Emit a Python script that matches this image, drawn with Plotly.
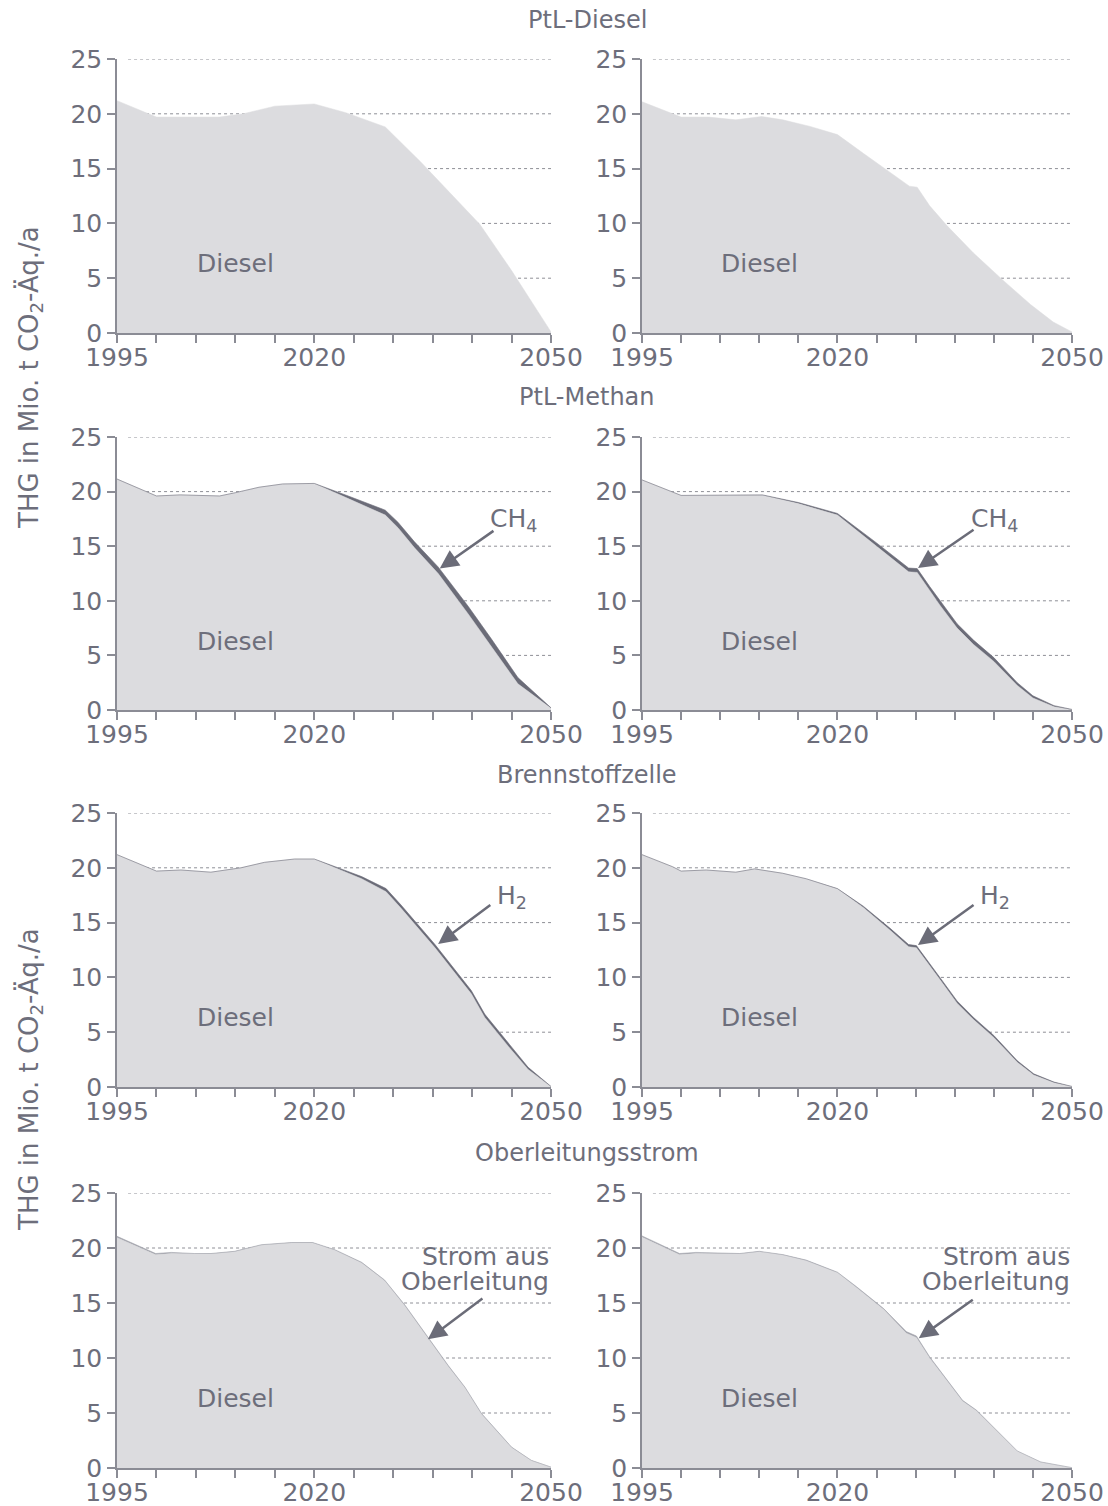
import plotly.graph_objects as go

# ---------------- data (Mio. t CO2-Äq./a) ----------------
# Row 1: PtL-Diesel
a_years = [1995, 2000, 2008, 2011, 2015, 2020, 2024, 2029, 2033.5, 2038, 2041, 2045, 2050]
a_diesel = [21.2, 19.7, 19.7, 20.0, 20.7, 20.9, 20.1, 18.8, 15.6, 12.2, 9.9, 5.7, 0.1]

b_years = [1995, 2000, 2003.5, 2007, 2010.3, 2013, 2016.5, 2020, 2023.3, 2026.3, 2029.2, 2030.2,
           2031.8, 2034, 2037.4, 2041.2, 2044.7, 2047.6, 2050]
b_diesel = [21.1, 19.7, 19.7, 19.45, 19.75, 19.45, 18.85, 18.1, 16.4, 14.9, 13.4, 13.3,
            11.6, 9.8, 7.3, 4.8, 2.6, 1.0, 0.1]

# Row 2: PtL-Methan
c_years = [1995, 2000, 2003, 2008, 2010, 2013, 2016, 2020, 2024.3, 2029, 2030.6, 2032.7,
           2035.7, 2039.5, 2042.5, 2045.8, 2050]
c_diesel = [21.15, 19.6, 19.7, 19.6, 19.9, 20.4, 20.7, 20.75, 19.36, 17.85, 16.7, 14.85,
            12.5, 8.8, 5.75, 2.4, 0.15]
c_ch4 = [0, 0, 0, 0, 0, 0, 0, 0, 0.24, 0.45, 0.5, 0.55, 0.6, 0.7, 0.7, 0.57, 0.05]

d_years = [1995, 2000, 2010.4, 2015, 2020, 2025, 2029.1, 2030.2, 2031.8, 2033.1, 2035.3,
           2037.4, 2040, 2043, 2045, 2047.7, 2050]
d_diesel = [21.07, 19.65, 19.67, 18.9, 17.85, 15.0, 12.65, 12.6, 10.9, 9.6, 7.5,
            6.0, 4.45, 2.25, 1.1, 0.3, 0.03]
d_ch4 = [0, 0, 0.03, 0.1, 0.15, 0.3, 0.35, 0.35, 0.4, 0.4, 0.4, 0.4, 0.35, 0.25, 0.2, 0.1, 0.02]

# Row 3: Brennstoffzelle
e_years = [1995, 1998.9, 2000, 2003.1, 2006.9, 2010.7, 2013.7, 2017.5, 2020, 2023.4, 2026,
           2029.1, 2031, 2035.3, 2039.9, 2041.6, 2044.6, 2047.1, 2050]
e_diesel = [21.2, 20.0, 19.7, 19.8, 19.6, 20.0, 20.5, 20.8, 20.8, 19.78, 19.0,
            17.82, 16.3, 12.7, 8.5, 6.35, 3.7, 1.6, 0.03]
e_h2 = [0, 0, 0, 0, 0, 0, 0, 0, 0, 0.12, 0.2, 0.28, 0.3, 0.3, 0.3, 0.3, 0.25, 0.2, 0.02]

f_years = [1995, 1998.9, 2000, 2003.2, 2007, 2009.4, 2013, 2016, 2020, 2023.3, 2026.7, 2029.1,
           2030.1, 2031.8, 2033.1, 2035.3, 2037.4, 2040, 2043, 2045.1, 2047.7, 2050]
f_diesel = [21.2, 20.1, 19.7, 19.8, 19.6, 19.9, 19.5, 19.0, 18.08, 16.38, 14.32, 12.8,
            12.7, 11.0, 9.8, 7.65, 6.15, 4.52, 2.25, 1.1, 0.39, 0.04]
f_h2 = [0, 0, 0, 0, 0, 0, 0, 0, 0.02, 0.12, 0.18, 0.2, 0.2, 0.2, 0.2, 0.2, 0.2, 0.18,
        0.15, 0.1, 0.06, 0.01]

# Row 4: Oberleitungsstrom
g_years = [1995, 1999.9, 2001.9, 2004.8, 2006.9, 2009.9, 2013.3, 2017.1, 2019.8, 2022.6, 2026,
           2028.9, 2031.5, 2034.4, 2037, 2039.1, 2041.2, 2045, 2047.5, 2050]
g_diesel = [20.94, 19.38, 19.5, 19.45, 19.46, 19.66, 20.26, 20.46, 20.46, 19.8, 18.64,
            17.02, 14.7, 11.8, 9.2, 7.27, 4.89, 1.86, 0.68, 0.08]
g_strom = [0.12, 0.12, 0.1, 0.05, 0.04, 0.04, 0.04, 0.04, 0.04, 0.05, 0.06, 0.08, 0.1, 0.1,
           0.1, 0.08, 0.06, 0.04, 0.02, 0.0]

h_years = [1995, 1999.8, 2001.9, 2005.3, 2007.5, 2010, 2013, 2016, 2020, 2022.4, 2025.9, 2028.8,
           2030.1, 2031.8, 2034, 2036, 2037.8, 2040.4, 2043, 2046, 2050]
h_diesel = [20.98, 19.38, 19.5, 19.45, 19.46, 19.66, 19.36, 18.85, 17.74, 16.42, 14.4, 12.25,
            11.85, 9.98, 7.9, 6.07, 5.18, 3.35, 1.52, 0.53, 0.03]
h_strom = [0.12, 0.12, 0.1, 0.05, 0.04, 0.04, 0.04, 0.05, 0.06, 0.08, 0.1, 0.15, 0.15, 0.12,
           0.1, 0.08, 0.07, 0.05, 0.03, 0.02, 0.0]

row_titles = ["PtL-Diesel", "PtL-Methan", "Brennstoffzelle", "Oberleitungsstrom"]
x_tickvals = list(range(1995, 2051, 5))
x_ticktext = ["1995", "", "", "", "", "2020", "", "", "", "", "", "2050"]
y_tickvals = [0, 5, 10, 15, 20, 25]
y_title = "THG in Mio. t CO<sub>2</sub>-Äq./a"

# ---------------- styling ----------------
FONT = "DejaVu Sans"
TXT = "#6d6e7b"
AX = "#8b8c95"
FILL = "#dcdcdf"
DARK = "#6b6c78"
STROM = "#a3a4ac"
W, H = 1108, 1506

col_px = [(117, 551), (642, 1072)]
row_px = [(59, 333), (437, 710), (813, 1087), (1193, 1468)]
title_px = [20, 397, 775, 1153]

panels = [
    (0, 0, a_years, a_diesel, None, None),
    (0, 1, b_years, b_diesel, None, None),
    (1, 0, c_years, c_diesel, c_ch4, DARK),
    (1, 1, d_years, d_diesel, d_ch4, DARK),
    (2, 0, e_years, e_diesel, e_h2, DARK),
    (2, 1, f_years, f_diesel, f_h2, DARK),
    (3, 0, g_years, g_diesel, g_strom, STROM),
    (3, 1, h_years, h_diesel, h_strom, STROM),
]

fig = go.Figure()
layout = dict(
    template="none",
    width=W, height=H, autosize=False,
    margin=dict(l=0, r=0, t=0, b=0, pad=0, autoexpand=False),
    paper_bgcolor="white", plot_bgcolor="rgba(0,0,0,0)",
    showlegend=False, hovermode=False,
    font=dict(family=FONT, size=25, color=TXT),
)
shapes = []
annotations = []

for i, (r, c, yrs, diesel, band, bcol) in enumerate(panels):
    n = i + 1
    xa = "x" if n == 1 else f"x{n}"
    ya = "y" if n == 1 else f"y{n}"
    xkey = "xaxis" if n == 1 else f"xaxis{n}"
    ykey = "yaxis" if n == 1 else f"yaxis{n}"
    x0, x1 = col_px[c]
    yt, yb = row_px[r]
    layout[xkey] = dict(
        domain=[x0 / W, x1 / W], anchor=ya, range=[1995, 2050], automargin=False,
        tickmode="array", tickvals=x_tickvals, ticktext=x_ticktext,
        ticks="outside", ticklen=8, tickwidth=1.5, tickcolor=AX, ticklabelstandoff=-7,
        showline=True, linecolor=AX, linewidth=1.5,
        showgrid=False, zeroline=False, fixedrange=True,
        tickfont=dict(family=FONT, size=25, color=TXT),
    )
    layout[ykey] = dict(
        domain=[1 - yb / H, 1 - yt / H], anchor=xa, range=[0, 25], automargin=False,
        tickmode="array", tickvals=y_tickvals,
        ticks="outside", ticklen=8, tickwidth=1.5, tickcolor=AX,
        showline=True, linecolor=AX, linewidth=1.5,
        showgrid=False, zeroline=False, fixedrange=True,
        tickfont=dict(family=FONT, size=25, color=TXT),
    )
    for v in y_tickvals[1:]:
        shapes.append(dict(type="line", xref=xa, yref=ya, x0=1996.4, x1=2050, y0=v, y1=v,
                           line=dict(color="#8e8f96", width=1, dash="dot"), layer="below"))
    sg = f"s{n}"
    fig.add_trace(go.Scatter(x=yrs, y=diesel, xaxis=xa, yaxis=ya, mode="lines",
                             stackgroup=sg, line=dict(width=0.5, color=FILL),
                             fillcolor=FILL, hoverinfo="skip"))
    if band is not None:
        fig.add_trace(go.Scatter(x=yrs, y=band, xaxis=xa, yaxis=ya, mode="lines",
                                 stackgroup=sg, line=dict(width=0.6, color=bcol),
                                 fillcolor=bcol, hoverinfo="skip"))
    annotations.append(dict(x=2010, y=6.3, xref=xa, yref=ya, text="Diesel", showarrow=False,
                            font=dict(family=FONT, size=25, color=TXT)))

for r, t in enumerate(row_titles):
    annotations.append(dict(x=587 / W, y=1 - title_px[r] / H, xref="paper", yref="paper",
                            text=t, showarrow=False, xanchor="center", yanchor="middle",
                            font=dict(family=FONT, size=24, color=TXT)))

for yc in [378, 1080]:
    annotations.append(dict(x=30 / W, y=1 - yc / H, xref="paper", yref="paper",
                            text=y_title, textangle=-90, showarrow=False,
                            xanchor="center", yanchor="middle",
                            font=dict(family=FONT, size=26, color=TXT)))

# (axis idx, [(text, x, y)], tail x, tail y, head x, head y, xanchor)
labels = [
    (3, [("CH<sub>4</sub>", 2045.2, 17.4)], 2042.9, 16.5, 2035.9, 12.95, "center"),
    (4, [("CH<sub>4</sub>", 2040.1, 17.4)], 2037.6, 16.6, 2030.3, 13.0, "center"),
    (5, [("H<sub>2</sub>", 2045.1, 17.3)], 2042.5, 16.7, 2035.7, 13.05, "center"),
    (6, [("H<sub>2</sub>", 2040.1, 17.3)], 2037.6, 16.7, 2030.3, 12.95, "center"),
    (7, [("Strom aus", 2050, 19.25), ("Oberleitung", 2050, 17.0)],
     2041.5, 15.5, 2034.4, 11.7, "right"),
    (8, [("Strom aus", 2050, 19.25), ("Oberleitung", 2050, 17.0)],
     2037.5, 15.4, 2030.4, 11.8, "right"),
]
for n, texts, tx, ty, hx, hy, xanc in labels:
    xa = f"x{n}"
    ya = f"y{n}"
    annotations.append(dict(x=hx, y=hy, ax=tx, ay=ty, xref=xa, yref=ya, axref=xa, ayref=ya,
                            text="", showarrow=True, arrowhead=2, arrowsize=1.5,
                            arrowwidth=2.5, arrowcolor=DARK, standoff=0))
    for txt, lx, ly in texts:
        annotations.append(dict(x=lx, y=ly, xref=xa, yref=ya, text=txt, showarrow=False,
                                xanchor=xanc, yanchor="middle",
                                font=dict(family=FONT, size=25, color=TXT)))

layout["shapes"] = shapes
layout["annotations"] = annotations
fig.update_layout(**layout)
fig.write_html(
    "out.html",
    config={"responsive": False, "displayModeBar": False},
    post_script="document.body.style.margin='0px';document.body.style.padding='0px';"
                "document.body.style.overflow='hidden';",
)
